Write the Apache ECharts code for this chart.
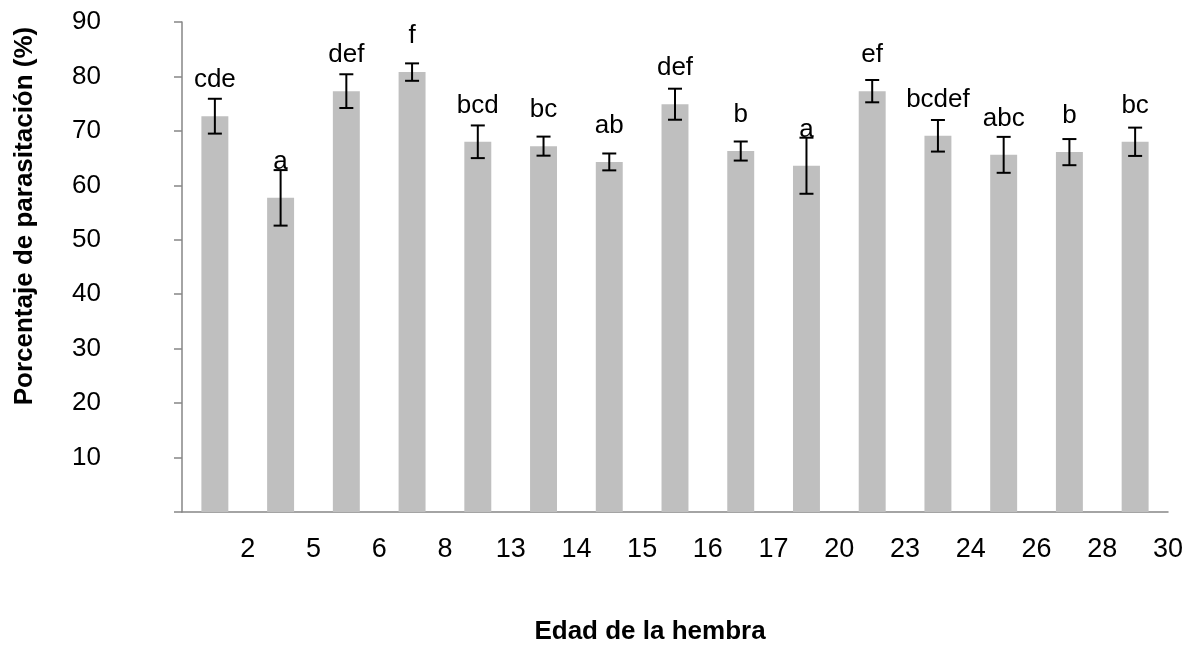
<!DOCTYPE html>
<html>
<head>
<meta charset="utf-8">
<title>Porcentaje de parasitación</title>
<script src="https://cdn.jsdelivr.net/npm/echarts@6/dist/echarts.min.js"></script>
<style>
  html, body { margin: 0; padding: 0; background: #fff; }
  #chart { width: 1194px; height: 648px; }
</style>
</head>
<body>
<div id="chart"></div>
<script>
// edad de la hembra (etiquetas del eje x)
const ages = ['2', '5', '6', '8', '13', '14', '15', '16', '17', '20', '23', '24', '26', '28', '30']
// porcentaje de parasitación (media)
const parasitism = [72.7, 57.7, 77.3, 80.8, 68.0, 67.2, 64.3, 74.9, 66.3, 63.6, 77.3, 69.1, 65.6, 66.1, 68.0]
// error estándar
const errors = [3.2, 5.1, 3.1, 1.6, 3.0, 1.75, 1.55, 2.85, 1.75, 5.15, 2.05, 2.9, 3.3, 2.4, 2.6]
// letras de significancia
const letters = ['cde', 'a', 'def', 'f', 'bcd', 'bc', 'ab', 'def', 'b', 'a', 'ef', 'bcdef', 'abc', 'b', 'bc']
// ticks del eje y
const yTicks = { min: 0, max: 90, interval: 10 }

const fontFamily = '"Liberation Sans", Arial, sans-serif'
const axisColor = '#868686'

const chart = echarts.init(document.getElementById('chart'))

const errData = parasitism.map((v, i) => [i, v, errors[i]])

chart.setOption({
  animation: false,
  grid: {
    left: 182,
    right: 26,
    top: 22,
    bottom: 136
  },
  xAxis: [
    {
      // eje de las barras
      type: 'category',
      data: ages,
      position: 'bottom',
      axisLine: { lineStyle: { color: axisColor, width: 1.5 } },
      axisTick: { length: 10, lineStyle: { color: axisColor, width: 1.5 } },
      axisLabel: { show: false }
    },
    {
      // etiquetas en los limites (como en el grafico original de Excel)
      type: 'category',
      data: [''].concat(ages),
      boundaryGap: false,
      position: 'bottom',
      offset: 0,
      axisLine: { show: false },
      axisTick: { show: false },
      splitLine: { show: false },
      axisLabel: {
        interval: 0,
        margin: 24,
        fontSize: 27,
        color: '#000',
        fontFamily: fontFamily
      }
    }
  ],
  yAxis: {
    type: 'value',
    min: yTicks.min,
    max: yTicks.max,
    interval: yTicks.interval,
    splitLine: { show: false },
    axisLine: { show: true, lineStyle: { color: axisColor, width: 1.5 } },
    axisTick: { show: true, length: 8, lineStyle: { color: axisColor, width: 1.5 } },
    axisLabel: {
      margin: 81,
      fontSize: 26,
      color: '#000',
      fontFamily: fontFamily,
      formatter: v => (v === 0 ? '' : v)
    }
  },
  graphic: [
    {
      type: 'text',
      x: 25,
      y: 216,
      rotation: Math.PI / 2,
      style: {
        text: 'Porcentaje de parasitación (%)',
        fontSize: 26,
        fontWeight: 'bold',
        fontFamily: fontFamily,
        fill: '#000',
        textAlign: 'center',
        textVerticalAlign: 'middle'
      }
    },
    {
      type: 'text',
      x: 650,
      y: 632,
      style: {
        text: 'Edad de la hembra',
        fontSize: 26,
        fontWeight: 'bold',
        fontFamily: fontFamily,
        fill: '#000',
        textAlign: 'center',
        textVerticalAlign: 'middle'
      }
    }
  ],
  series: [
    {
      type: 'bar',
      xAxisIndex: 0,
      data: parasitism,
      barWidth: '41%',
      itemStyle: { color: '#BFBFBF' },
      label: {
        show: true,
        position: 'top',
        distance: 23,
        fontSize: 26,
        color: '#000',
        fontFamily: fontFamily,
        formatter: p => letters[p.dataIndex]
      }
    },
    {
      // barras de error
      type: 'custom',
      xAxisIndex: 0,
      data: errData,
      z: 5,
      encode: { x: 0, y: 1 },
      renderItem: function(params, api) {
        const x = api.value(0)
        const v = api.value(1)
        const e = api.value(2)
        const top = api.coord([x, v + e])
        const bottom = api.coord([x, v - e])
        const half = 7
        const style = { stroke: '#000', lineWidth: 2 }
        return {
          type: 'group',
          children: [
            { type: 'line', shape: { x1: top[0], y1: top[1], x2: bottom[0], y2: bottom[1] }, style: style },
            { type: 'line', shape: { x1: top[0] - half, y1: top[1], x2: top[0] + half, y2: top[1] }, style: style },
            { type: 'line', shape: { x1: bottom[0] - half, y1: bottom[1], x2: bottom[0] + half, y2: bottom[1] }, style: style }
          ]
        }
      }
    }
  ]
})
</script>
</body>
</html>
